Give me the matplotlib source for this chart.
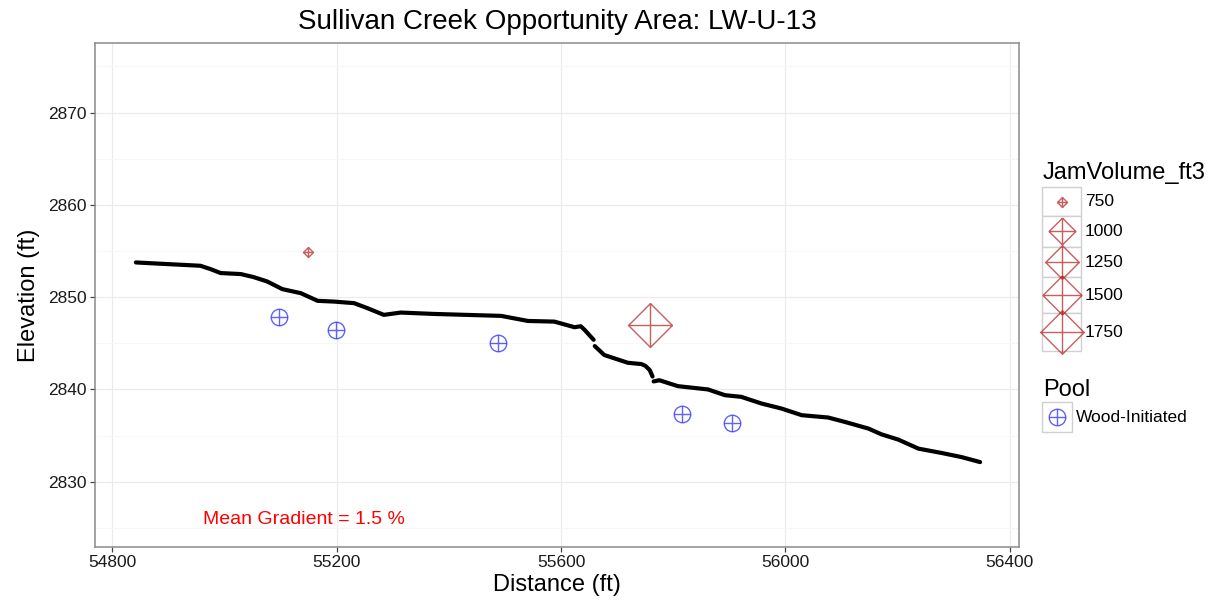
import numpy as np
import matplotlib
matplotlib.use("Agg")
import matplotlib.pyplot as plt
from matplotlib.path import Path
from matplotlib.patches import Rectangle
from matplotlib.lines import Line2D

plt.rcParams['font.family'] = ['Liberation Sans', 'DejaVu Sans']

# ---------------- data ----------------
title = "Sullivan Creek Opportunity Area: LW-U-13"
profile_dist = [54842, 54886, 54957, 54975, 54993, 55029, 55052, 55076, 55103, 55136,
                55166, 55195, 55231, 55255, 55284, 55314, 55374, 55493, 55541, 55588,
                55624, 55635, 55642, 55658, np.nan, 55660, 55677, 55719, 55743, 55750,
                55758, 55763, np.nan, 55765, 55775,
                55808, 55862, 55892, 55921, 55957, 55993, 56029, 56076, 56106, 56148,
                56171, 56201, 56237, 56279, 56314, 56347]
profile_elev = [2853.76, 2853.62, 2853.40, 2853.04, 2852.61, 2852.50, 2852.17, 2851.70, 2850.87, 2850.43,
                2849.60, 2849.52, 2849.35, 2848.80, 2848.08, 2848.33, 2848.18, 2847.97, 2847.42, 2847.35,
                2846.74, 2846.85, 2846.45, 2845.38, np.nan, 2844.70, 2843.73, 2842.89, 2842.75, 2842.57,
                2842.10, 2841.40, np.nan, 2840.87, 2841.00,
                2840.36, 2840.00, 2839.38, 2839.20, 2838.48, 2837.93, 2837.21, 2836.96, 2836.48, 2835.76,
                2835.14, 2834.57, 2833.59, 2833.11, 2832.67, 2832.13]

pool_dist = [55097, 55198, 55487, 55815, 55904]
pool_elev = [2847.83, 2846.45, 2845.00, 2837.32, 2836.37]
pool_label = "Wood-Initiated"

jam_dist = [55148, 55758]
jam_elev = [2854.89, 2846.99]
jam_volume = [750, 1780]
jam_breaks = [750, 1000, 1250, 1500, 1750]

gradient_text = "Mean Gradient = 1.5 %"
gradient_pos = (55142, 2825.9)

xticks = [54800, 55200, 55600, 56000, 56400]
yticks = [2830, 2840, 2850, 2860, 2870]
xlim = (54768.6, 56416.8)
ylim = (2822.9, 2877.5)

# ---------------- styling ----------------
W, H = 1219, 613
DPI = 100
jam_color = (0.70, 0.13, 0.13, 0.72)
pool_color = (0.0, 0.0, 1.0, 0.62)

diamond_plus = Path(
    [(0, 1), (1, 0), (0, -1), (-1, 0), (0, 1), (-1, 0), (1, 0), (0, -1), (0, 1)],
    [Path.MOVETO, Path.LINETO, Path.LINETO, Path.LINETO, Path.LINETO,
     Path.MOVETO, Path.LINETO, Path.MOVETO, Path.LINETO])

vmin, vmax = min(jam_volume), max(jam_volume)
def jam_size(v):
    t = max(0.0, (v - vmin) / (vmax - vmin))
    px = 10 + 33.9 * np.sqrt(t)
    return px * 72.0 / DPI

pool_ms = 16.5 * 72.0 / DPI

fig = plt.figure(figsize=(W / DPI, H / DPI), dpi=DPI)
L, R, T, B = 94.7, 1019.3, 43.3, 547.3
ax = fig.add_axes([L / W, 1 - B / H, (R - L) / W, (B - T) / H])
ax.set_xlim(*xlim)
ax.set_ylim(*ylim)

# grid
ax.set_xticks(xticks)
ax.set_yticks(yticks)
ax.set_xticks([54600 + 400 * i + 200 for i in range(5)], minor=True)
ax.set_yticks([2825, 2835, 2845, 2855, 2865, 2875], minor=True)
ax.grid(which='major', color='#ebebeb', lw=0.8)
ax.grid(which='minor', color='#f7f7f7', lw=0.8)
ax.set_axisbelow(True)
for s in ax.spines.values():
    s.set_color('#8a8a8a')
    s.set_linewidth(1.1)
ax.tick_params(which='major', length=3.6, width=0.9, color='#444444', labelsize=12.5,
               labelcolor='#1a1a1a', pad=2)
ax.tick_params(which='minor', length=0)

# profile
ax.plot(profile_dist, profile_elev, color='black', lw=3.0, solid_joinstyle='round',
        solid_capstyle='round', zorder=3)

# pools
ax.plot(pool_dist, pool_elev, ls='none', marker='o', ms=pool_ms, mfc='none',
        mec=pool_color, mew=1.0, zorder=4)
ax.plot(pool_dist, pool_elev, ls='none', marker='+', ms=pool_ms, mec=pool_color,
        mew=1.0, zorder=4)

# jams
for d, e, v in zip(jam_dist, jam_elev, jam_volume):
    ax.plot([d], [e], ls='none', marker=diamond_plus, ms=jam_size(v), mfc='none',
            mec=jam_color, mew=1.0, zorder=4)

ax.text(gradient_pos[0], gradient_pos[1], gradient_text, color='red', fontsize=14,
        ha='center', va='center')

# titles
fig.text(((L + R) / 2) / W, 1 - 29 / H, title, fontsize=20, ha='center', va='baseline')
ax.set_xlabel("Distance (ft)", fontsize=17, labelpad=3)
ax.set_ylabel("Elevation (ft)", fontsize=17, labelpad=6)

# ---------------- legend (drawn in pixel space) ----------------
def fx(x):
    return x / W
def fy(y):
    return 1 - y / H

fig.text(fx(1043), fy(179), "JamVolume_ft3", fontsize=17, ha='left', va='baseline')
key_edges = [187, 216, 247, 277, 313, 351]
for i, v in enumerate(jam_breaks):
    y0, y1 = key_edges[i], key_edges[i + 1]
    fig.add_artist(Rectangle((fx(1042), fy(y1)), (1081 - 1042) / W, (y1 - y0) / H,
                             transform=fig.transFigure, facecolor='white',
                             edgecolor='#d0d0d0', lw=1.0))
for i, v in enumerate(jam_breaks):
    y0, y1 = key_edges[i], key_edges[i + 1]
    yc = (y0 + y1) / 2
    fig.add_artist(Line2D([fx(1062)], [fy(yc)], transform=fig.transFigure, ls='none',
                          marker=diamond_plus, ms=jam_size(v), mfc='none',
                          mec=jam_color, mew=1.0))
    fig.text(fx(1085), fy(yc), str(v), fontsize=12.5, ha='left', va='center')

fig.text(fx(1043), fy(396), "Pool", fontsize=17, ha='left', va='baseline')
fig.add_artist(Rectangle((fx(1042), fy(432)), 30 / W, 30 / H, transform=fig.transFigure,
                         facecolor='white', edgecolor='#d0d0d0', lw=1.0))
for m in ['o', '+']:
    fig.add_artist(Line2D([fx(1057)], [fy(417)], transform=fig.transFigure, ls='none',
                          marker=m, ms=pool_ms, mfc='none', mec=pool_color, mew=1.0))
fig.text(fx(1076), fy(417), pool_label, fontsize=12.5, ha='left', va='center')

fig.savefig("out.png", dpi=DPI, facecolor='white')
